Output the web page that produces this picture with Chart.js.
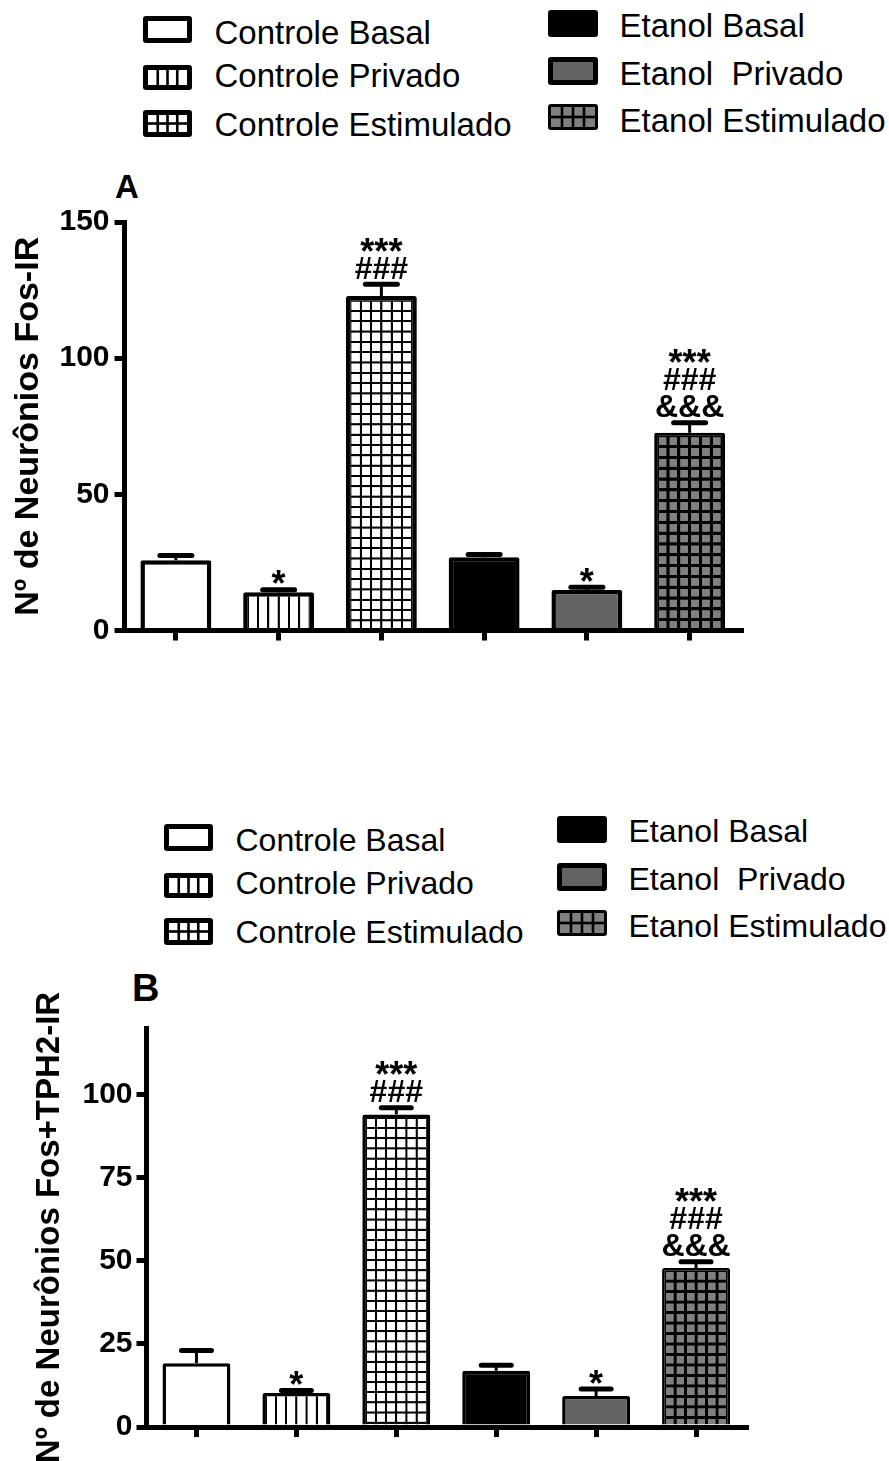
<!DOCTYPE html>
<html>
<head>
<meta charset="utf-8">
<script src="https://cdn.jsdelivr.net/npm/chart.js@4.4.1/dist/chart.umd.min.js"></script>
<style>
  html, body { margin: 0; padding: 0; background: #fff; }
  body { width: 889px; height: 1461px; position: relative; overflow: hidden;
         font-family: "Liberation Sans", Arial, Helvetica, sans-serif; }
  canvas.chart { position: absolute; left: 0; }
  .lg { position: absolute; white-space: pre; color: #000; }
  .sw { position: absolute; }
  .panel { position: absolute; font-weight: bold; line-height: 1; color: #000; }
</style>
</head>
<body>
<div class="panel" style="left:115px; top:170px; font-size:33px;">A</div>
<div class="panel" style="left:132px; top:969px; font-size:38px;">B</div>
<canvas id="chartA" class="chart" width="889" height="520" style="top:150px"></canvas>
<canvas id="chartB" class="chart" width="889" height="511" style="top:950px"></canvas>
<script>
// ---------------- DATA ----------------
const categories = ["Controle Basal", "Controle Privado", "Controle Estimulado",
                    "Etanol Basal", "Etanol  Privado", "Etanol Estimulado"];

// Panel A: Nº de Neurônios Fos-IR
const fosMean = [25.8, 14.0, 122.8, 26.9, 14.9, 72.6];
const fosErr  = [1.7, 1.0, 4.3, 1.0, 1.0, 3.7];
const fosTicks = [0, 50, 100, 150];
const fosSig = [[], ["*"], ["***", "###"], [], ["*"], ["***", "###", "&&&"]];
const fosTitle = "Nº de Neurônios Fos-IR";

// Panel B: Nº de Neurônios Fos+TPH2-IR
const fosTphMean = [19.2, 10.2, 94.0, 16.9, 9.3, 47.8];
const fosTphErr  = [3.8, 0.8, 2.0, 1.7, 2.1, 1.9];
const fosTphTicks = [0, 25, 50, 75, 100];
const fosTphSig = [[], ["*"], ["***", "###"], [], ["*"], ["***", "###", "&&&"]];
const fosTphTitle = "Nº de Neurônios Fos+TPH2-IR";

// ---------------- STYLE ----------------
const FONT = '"Liberation Sans", Arial, Helvetica, sans-serif';
Chart.defaults.font.family = FONT;
const fillKinds = ["white", "vlines", "grid", "black", "gray", "grayGrid"];

const T = 44; // tile size in tile units
function makeTile(kind, lwPx, cellPx) {
  const c = document.createElement("canvas");
  c.width = T; c.height = T;
  const g = c.getContext("2d");
  const h = lwPx / 2 * T / cellPx;
  g.fillStyle = kind === "grayGrid" ? "#808080" : "#ffffff";
  g.fillRect(0, 0, T, T);
  g.fillStyle = "#000";
  g.fillRect(0, 0, h, T); g.fillRect(T - h, 0, h, T);
  if (kind !== "vlines") { g.fillRect(0, 0, T, h); g.fillRect(0, T - h, T, h); }
  return g.createPattern(c, "repeat");
}

function buildFills() {
  return fillKinds.map(k => {
    if (k === "white") return "#ffffff";
    if (k === "black") return "#000000";
    if (k === "gray") return "#636363";
    if (k === "vlines") return makeTile("vlines", 2.1, 10.5);
    if (k === "grid") return makeTile("grid", 2.1, 10.5);
    return makeTile("grayGrid", 3.0, 10.5);
  });
}

function patternAlignPlugin(fills) {
  return {
    id: "patternAlign",
    beforeDatasetsDraw(chart) {
      const meta = chart.getDatasetMeta(0);
      meta.data.forEach((el, i) => {
        const p = fills[i];
        if (typeof p === "string") return;
        const bw = el.options.borderWidth;
        const left = el.x - el.width / 2 + bw;
        const top = el.y + bw;
        const cell = (el.width - 2 * bw) / 6;
        p.setTransform(new DOMMatrix().translate(left, top).scale(cell / T));
      });
    }
  };
}

function errorPlugin(errs, sig, st) {
  return {
    id: "errorBars",
    afterDatasetsDraw(chart) {
      const ctx = chart.ctx;
      const meta = chart.getDatasetMeta(0);
      const ys = chart.scales.y;
      const means = chart.data.datasets[0].data;
      ctx.save();
      ctx.strokeStyle = "#000";
      ctx.fillStyle = "#000";
      meta.data.forEach((el, i) => {
        const yTop = ys.getPixelForValue(means[i] + errs[i]);
        ctx.lineWidth = st.stem; ctx.lineCap = "butt";
        ctx.beginPath(); ctx.moveTo(el.x, el.y); ctx.lineTo(el.x, yTop); ctx.stroke();
        ctx.lineWidth = st.cap; ctx.lineCap = "round";
        ctx.beginPath(); ctx.moveTo(el.x - st.half, yTop); ctx.lineTo(el.x + st.half, yTop); ctx.stroke();
        let bottom = yTop - st.cap / 2 - st.gap;
        const lines = sig[i];
        for (let k = lines.length - 1; k >= 0; k--) {
          const size = lines[k].charAt(0) === "*" ? st.starFont : st.font;
          ctx.font = "bold " + size + "px " + FONT;
          ctx.textAlign = "center"; ctx.textBaseline = "alphabetic";
          const m = ctx.measureText(lines[k]);
          const base = bottom - m.actualBoundingBoxDescent;
          ctx.fillText(lines[k], el.x, base);
          bottom = base - m.actualBoundingBoxAscent - st.lineGap;
        }
      });
      ctx.restore();
    }
  };
}

function makeChart(id, means, errs, ticks, maxV, title, sig, L) {
  const fills = buildFills();
  return new Chart(document.getElementById(id), {
    type: "bar",
    data: {
      labels: categories,
      datasets: [{
        data: means,
        backgroundColor: fills,
        borderColor: "#000",
        borderWidth: L.bw,
        borderRadius: 2,
        borderSkipped: "start",
        barPercentage: L.barPct,
        categoryPercentage: 1
      }]
    },
    options: {
      responsive: false,
      animation: false,
      events: [],
      layout: { padding: { top: L.padTop, bottom: L.padBottom, left: 0, right: L.padRight } },
      plugins: { legend: { display: false }, tooltip: { enabled: false } },
      scales: {
        x: {
          offset: true,
          afterFit: s => { s.height = L.xH; },
          border: { display: true, width: 5, color: "#000" },
          grid: { offset: false, drawOnChartArea: false, drawTicks: true, tickLength: 10, lineWidth: 5, color: "#000" },
          ticks: { display: false }
        },
        y: {
          min: 0, max: maxV,
          afterBuildTicks: s => { s.ticks = ticks.map(v => ({ value: v })); },
          afterFit: s => { s.width = L.yW; },
          border: { display: true, width: 5, color: "#000" },
          grid: { drawOnChartArea: false, drawTicks: true, tickLength: 10, lineWidth: 5, color: "#000" },
          ticks: { color: "#000", padding: L.tickPad, font: { family: FONT, size: 30, weight: "bold" } },
          title: { display: true, text: title, color: "#000",
                   font: { family: FONT, size: L.titleSize, weight: "bold" },
                   padding: { top: L.titlePad, bottom: 0 } }
        }
      }
    },
    plugins: [patternAlignPlugin(fills), errorPlugin(errs, sig, L.err)]
  });
}

makeChart("chartA", fosMean, fosErr, fosTicks, 150, fosTitle, fosSig, {
  bw: [4.5, 4.5, 4.5, 4.5, 4.5, 3], barPct: 0.69,
  padTop: 72, padBottom: 20, padRight: 148, xH: 19.5, yW: 124.5, tickPad: 5, titlePad: 8, titleSize: 34,
  err: { stem: 3, cap: 5, half: 16, gap: 3, font: 32, starFont: 36, lineGap: 5 }
});
makeChart("chartB", fosTphMean, fosTphErr, fosTphTicks, 120, fosTphTitle, fosTphSig, {
  bw: [3.5, 3.5, 3.5, 3.5, 3.5, 2.5], barPct: 0.68,
  padTop: 78, padBottom: 14, padRight: 143, xH: 20, yW: 146.5, tickPad: 4, titlePad: 30, titleSize: 33,
  err: { stem: 3, cap: 5, half: 15, gap: 3, font: 32, starFont: 36, lineGap: 5 }
});

// ---------------- LEGENDS (HTML) ----------------
function drawSwatch(cv, kind) {
  const g = cv.getContext("2d");
  const w = cv.width, h = cv.height;
  function rr(x, y, ww, hh, r) {
    g.beginPath(); g.moveTo(x + r, y); g.lineTo(x + ww - r, y); g.quadraticCurveTo(x + ww, y, x + ww, y + r);
    g.lineTo(x + ww, y + hh - r); g.quadraticCurveTo(x + ww, y + hh, x + ww - r, y + hh);
    g.lineTo(x + r, y + hh); g.quadraticCurveTo(x, y + hh, x, y + hh - r);
    g.lineTo(x, y + r); g.quadraticCurveTo(x, y, x + r, y); g.closePath();
  }
  let bw = 5;
  if (kind === "grayGrid") bw = 3;
  rr(0, 0, w, h, 3); g.fillStyle = "#000"; g.fill();
  const ix = bw, iy = bw, iw = w - 2 * bw, ih = h - 2 * bw;
  let inner = "#fff";
  if (kind === "black") return;
  if (kind === "gray") inner = "#636363";
  if (kind === "grayGrid") inner = "#808080";
  g.fillStyle = inner; g.fillRect(ix, iy, iw, ih);
  g.fillStyle = "#000";
  const lw = 2.6;
  if (kind === "vlines" || kind === "grid" || kind === "grayGrid") {
    for (let k = 1; k < 4; k++) g.fillRect(ix + iw * k / 4 - lw / 2, iy, lw, ih);
  }
  if (kind === "grid" || kind === "grayGrid") {
    g.fillRect(ix, iy + ih / 2 - lw / 2, iw, lw);
  }
}

const legendLayout = {
  left:  { sx: 143, sw: 49, sy: [16, 65, 110], sh: [27, 25, 27], tx: 214.5, cap: [20, 63, 112] },
  right: { sx: 548, sw: 50, sy: [10, 57, 104], sh: [27, 28, 26], tx: 619.5, cap: [13, 61, 108] }
};
function buildLegend(dxL, dxR, dyL, dyR, fontSize) {
  categories.forEach((name, i) => {
    const isLeft = i < 3;
    const col = isLeft ? legendLayout.left : legendLayout.right;
    const r = i % 3;
    const dx = isLeft ? dxL : dxR;
    const dy = isLeft ? dyL : dyR;
    const cv = document.createElement("canvas");
    cv.className = "sw";
    cv.width = col.sw; cv.height = col.sh[r];
    cv.style.left = (col.sx + dx) + "px";
    cv.style.top = (col.sy[r] + dy) + "px";
    document.body.appendChild(cv);
    drawSwatch(cv, fillKinds[i]);
    const t = document.createElement("div");
    t.className = "lg";
    t.textContent = name;
    t.style.fontSize = fontSize + "px";
    t.style.lineHeight = fontSize + "px";
    t.style.left = (col.tx + dx) + "px";
    t.style.top = (col.cap[r] + dy - 0.1305 * fontSize) + "px";
    document.body.appendChild(t);
  });
}
buildLegend(0, 0, 0, 0, 33);
buildLegend(21, 9, 808, 806, 32);
</script>
</body>
</html>
